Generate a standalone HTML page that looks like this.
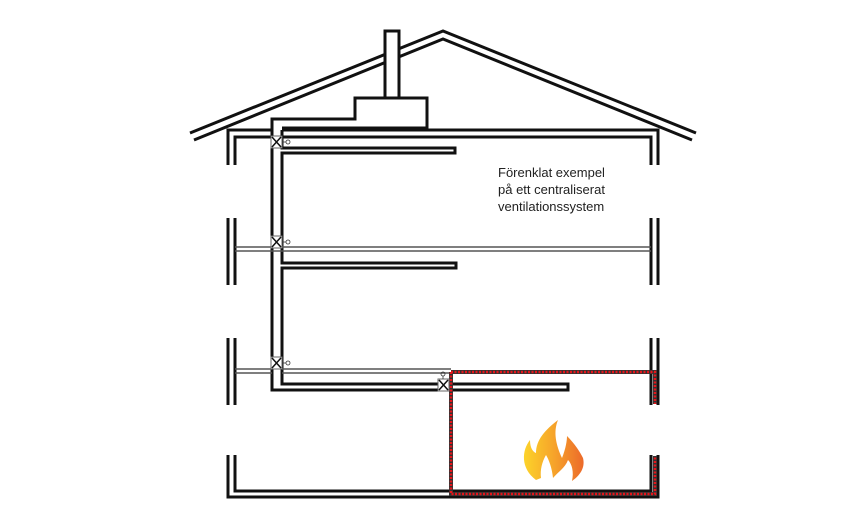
<!DOCTYPE html>
<html><head><meta charset="utf-8"><style>
html,body{margin:0;padding:0;background:#fff;}
svg{display:block;}
text{font-family:"Liberation Sans",sans-serif;font-size:13px;fill:#222;}
</style></head><body>
<svg width="850" height="529" viewBox="0 0 850 529" xmlns="http://www.w3.org/2000/svg">
<defs>
<linearGradient id="fg" x1="0" y1="0" x2="1" y2="0">
<stop offset="0" stop-color="#fcd32a"/><stop offset="0.5" stop-color="#f6a42a"/><stop offset="1" stop-color="#ec6a2a"/>
</linearGradient>
</defs>
<g fill="none" stroke="#111" stroke-width="3" stroke-linecap="butt">
<polyline points="190,133 443,31 696,133"/>
<polyline points="194,140 443,39 692,140"/>
</g>
<g fill="#fff" stroke="#111" stroke-width="3">
<polygon points="385,31 399,31 399,98 385,98"/>
</g>
<g fill="none" stroke="#111" stroke-width="3" stroke-linecap="butt">
<polyline points="272,142 272,119 355,119 355,98 385,98 385,31 399,31 399,98 427,98 427,128 282,128"/>
<polyline points="228,165 228,130 272,130"/>
<polyline points="282,130 658,130 658,165"/>
<polyline points="235,165 235,137 272,137"/>
<polyline points="282,137 651,137 651,165"/>
<line x1="228" y1="218" x2="228" y2="285"/><line x1="235" y1="218" x2="235" y2="285"/>
<line x1="228" y1="338" x2="228" y2="405"/><line x1="235" y1="338" x2="235" y2="405"/>
<line x1="658" y1="218" x2="658" y2="285"/><line x1="651" y1="218" x2="651" y2="285"/>
<line x1="658" y1="338" x2="658" y2="405"/>
<line x1="651" y1="338" x2="651" y2="405"/>
<polyline points="228,455 228,497 658,497 658,455"/>
<polyline points="235,455 235,491 651,491 651,455"/>
<polyline points="272,142 272,390 568,390 568,384 282,384 282,268 456,268 456,263 282,263 282,153 455,153 455,148 282,148 282,130"/>
</g>
<g stroke="#555" stroke-width="1.5">
<line x1="235" y1="247" x2="651" y2="247"/><line x1="235" y1="251" x2="651" y2="251"/>
<line x1="235" y1="369" x2="272" y2="369"/><line x1="235" y1="373" x2="272" y2="373"/>
<line x1="282" y1="369" x2="451" y2="369"/><line x1="282" y1="373" x2="451" y2="373"/>
</g>
<g fill="none" stroke="#333" stroke-width="4">
<polyline points="451,372 655,372 655,404"/>
<polyline points="451,372 451,494 655,494 655,456"/>
</g>
<g fill="none" stroke="#e8141a" stroke-width="2.5" stroke-dasharray="2,1.5">
<polyline points="451,372 655,372 655,404"/>
<polyline points="451,372 451,494 655,494 655,456"/>
</g>
<g fill="#fff" stroke="#666" stroke-width="1">
<rect x="271" y="136" width="11" height="12"/>
<rect x="271" y="236" width="11" height="12"/>
<rect x="271" y="357" width="11" height="12"/>
<rect x="438" y="379" width="11" height="12"/>
</g>
<g stroke="#111" stroke-width="1.5">
<path d="M272,137 L281,147 M281,137 L272,147"/>
<path d="M272,237 L281,247 M281,237 L272,247"/>
<path d="M272,358 L281,368 M281,358 L272,368"/>
<path d="M439,380 L448,390 M448,380 L439,390"/>
</g>
<g fill="none" stroke="#333" stroke-width="0.8">
<circle cx="288" cy="142" r="2"/><line x1="283" y1="142" x2="286" y2="142"/>
<circle cx="288" cy="242" r="2"/><line x1="283" y1="242" x2="286" y2="242"/>
<circle cx="288" cy="363" r="2"/><line x1="283" y1="363" x2="286" y2="363"/>
<circle cx="443" cy="374" r="2"/><line x1="443" y1="376" x2="443" y2="379"/>
</g>
<text x="498" y="177">Förenklat exempel</text>
<text x="498" y="194">på ett centraliserat</text>
<text x="498" y="211">ventilationssystem</text>
<path fill="url(#fg)" d="M536,480 C520,468 522,450 530,440 C530,448 533,452 536,453 C536,440 545,430 558,420 C553,432 556,445 562,458 C566,448 567,440 567,436 C575,444 580,452 583,458 C585,466 582,474 572,481 C574,472 572,464 568,460 C565,468 558,472 553,478 C552,468 549,460 546,455 C542,462 540,470 541,478 Z"/>
</svg>
</body></html>
